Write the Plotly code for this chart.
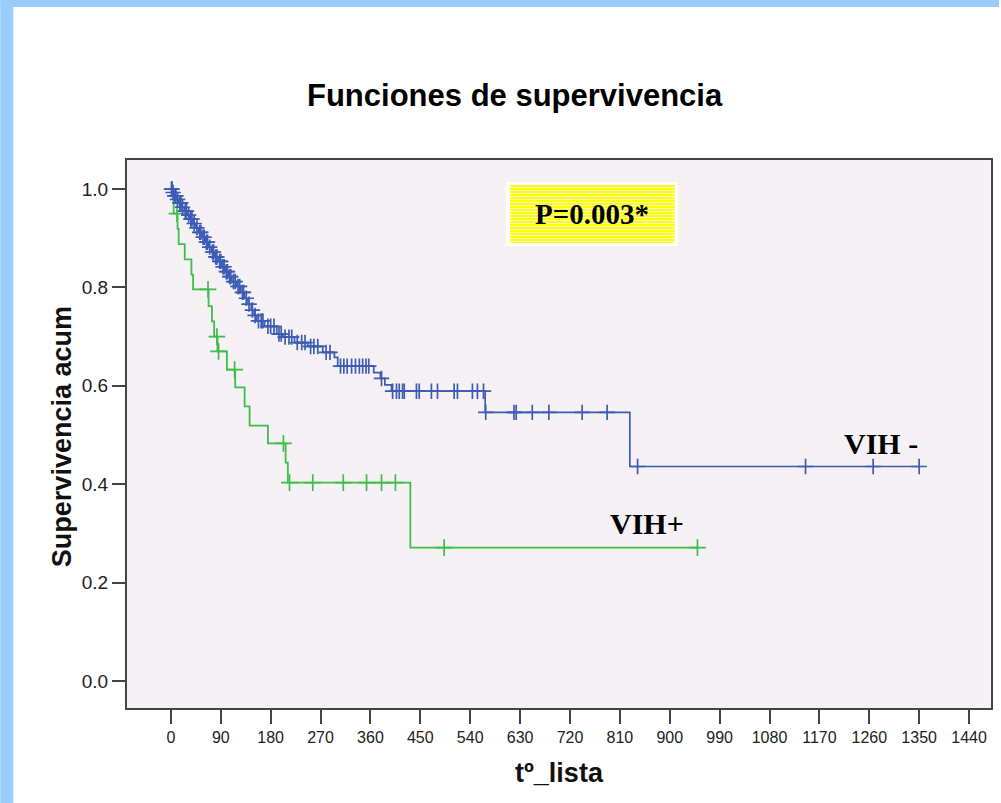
import numpy as np
import plotly.graph_objects as go

# ---------------- data ----------------
# VIH- (blue): event times (days) and survival after each event
neg_event_days = [3, 6, 10, 14, 19, 24, 29, 34, 40, 45, 50, 56, 62, 68, 73, 79, 85, 92, 98,
                  104, 110, 118, 126, 133, 139, 145, 150, 155, 169, 191, 202, 223, 247, 274,
                  295, 301, 366, 378, 386, 398, 567, 828]
neg_event_surv = [0.993, 0.986, 0.979, 0.972, 0.963, 0.955, 0.947, 0.939, 0.930, 0.921, 0.912,
                  0.902, 0.892, 0.882, 0.872, 0.862, 0.853, 0.842, 0.832, 0.822, 0.812, 0.802,
                  0.790, 0.778, 0.766, 0.754, 0.743, 0.732, 0.721, 0.705, 0.699, 0.688, 0.680,
                  0.668, 0.658, 0.640, 0.627, 0.615, 0.602, 0.589, 0.546, 0.436]
neg_censor_days = [1, 2, 4, 7, 9, 12, 16, 18, 21, 26, 28, 32, 36, 38, 42, 47, 52, 54, 58, 60,
                   64, 66, 70, 75, 77, 81, 83, 88, 90, 94, 96, 100, 102, 106, 108, 113, 116,
                   121, 124, 129, 131, 136, 141, 147, 152, 158, 163, 166, 175, 180, 186, 195,
                   199, 206, 213, 218, 228, 236, 242, 252, 258, 265, 280, 287, 306, 312, 318,
                   326, 333, 340, 346, 352, 357, 380, 400, 407, 412, 418, 421, 443, 448, 470,
                   481, 511, 517, 544, 553, 564, 568, 619, 623, 652, 682, 742, 787, 842, 1145,
                   1267, 1350]

# VIH+ (green)
pos_event_days = [5, 12, 14, 25, 37, 40, 68, 74, 78, 84, 101, 116, 133, 142, 175, 207, 211, 432]
pos_event_surv = [0.950, 0.919, 0.888, 0.857, 0.826, 0.796, 0.762, 0.731, 0.700, 0.670, 0.633,
                  0.597, 0.558, 0.519, 0.483, 0.444, 0.403, 0.271]
pos_censor_days = [11, 67, 83, 86, 115, 203, 214, 256, 311, 353, 380, 405, 493, 950]

x_ticks = [0, 90, 180, 270, 360, 450, 540, 630, 720, 810, 900, 990, 1080, 1170, 1260, 1350, 1440]
y_ticks = [0.0, 0.2, 0.4, 0.6, 0.8, 1.0]
y_tick_labels = ["0.0", "0.2", "0.4", "0.6", "0.8", "1.0"]

title_text = "Funciones de supervivencia"
x_title = "tº_lista"
y_title = "Supervivencia acum"
p_text = "P=0.003*"
neg_label = "VIH -"
pos_label = "VIH+"

# ---------------- styles ----------------
BLUE = "#3D5CB4"
GREEN = "#3FBE4C"
SANS = "Liberation Sans, Arial, sans-serif"
SERIF = "Liberation Serif, Times New Roman, serif"

W_FIG, H_FIG = 1001, 803
L, R, T, B = 127, 993, 160, 708


def px(x):
    return (x - L) / (R - L)


def py(y):
    return (B - y) / (B - T)


def step_xy(days, surv, censors):
    end = max(censors)
    xs = [0] + list(days) + [end]
    ys = [1.0] + list(surv) + [surv[-1]]
    return xs, ys


def censor_y(days, surv, censors):
    levels = np.array([1.0] + list(surv))
    idx = np.searchsorted(np.array(days), np.array(censors), side="right")
    return levels[idx]


fig = go.Figure()

for days, surv, cens, col, lw, ms in [
    (pos_event_days, pos_event_surv, pos_censor_days, GREEN, 1.8, 12),
    (neg_event_days, neg_event_surv, neg_censor_days, BLUE, 1.7, 11),
]:
    xs, ys = step_xy(days, surv, cens)
    fig.add_trace(go.Scatter(x=xs, y=ys, mode="lines", line=dict(color=col, width=lw, shape="hv"),
                             hoverinfo="skip", showlegend=False))
    fig.add_trace(go.Scatter(x=cens, y=censor_y(days, surv, cens), mode="markers",
                             marker=dict(symbol="cross-thin", size=ms, color=col,
                                         line=dict(color=col, width=1.7)),
                             hoverinfo="skip", showlegend=False))

shapes = []
# light blue page border
shapes.append(dict(type="rect", xref="paper", yref="paper", x0=px(0), x1=px(W_FIG), y0=py(0), y1=py(7),
                   fillcolor="#99CCFF", line=dict(width=0), layer="below"))
shapes.append(dict(type="rect", xref="paper", yref="paper", x0=px(0), x1=px(13), y0=py(0), y1=py(H_FIG),
                   fillcolor="#99CCFF", line=dict(width=0), layer="below"))
# P value box
shapes.append(dict(type="rect", xref="paper", yref="paper", x0=px(507), x1=px(679), y0=py(246), y1=py(182),
                   fillcolor="white", line=dict(width=0)))
shapes.append(dict(type="rect", xref="paper", yref="paper", x0=px(511), x1=px(676), y0=py(243), y1=py(185),
                   fillcolor="#FFFF00", line=dict(width=0)))
for yy in range(187, 243, 3):
    shapes.append(dict(type="line", xref="paper", yref="paper", x0=px(511), x1=px(676), y0=py(yy + 0.5),
                       y1=py(yy + 0.5), line=dict(color="#FFFFD0", width=1)))

annotations = [
    dict(text=title_text, x=px(516), y=py(96), font=dict(family=SANS, size=31, color="black", weight="bold")),
    dict(text=p_text, x=px(593), y=py(214), font=dict(family=SERIF, size=29, color="black", weight="bold")),
    dict(text=neg_label, x=px(883), y=py(443), font=dict(family=SERIF, size=30, color="black", weight="bold")),
    dict(text=pos_label, x=px(648), y=py(523), font=dict(family=SERIF, size=30, color="black", weight="bold")),
    dict(text=y_title, x=px(62), y=py(437), textangle=-90,
         font=dict(family=SANS, size=27, color="#111", weight="bold")),
    dict(text=x_title, x=px(561), y=py(773), font=dict(family=SANS, size=27, color="#111", weight="bold")),
]
for a in annotations:
    a.update(xref="paper", yref="paper", xanchor="center", yanchor="middle", showarrow=False)

fig.update_layout(
    width=W_FIG, height=H_FIG,
    margin=dict(l=L, r=W_FIG - R, t=T, b=H_FIG - B, pad=0),
    paper_bgcolor="white",
    plot_bgcolor="#F5F1F5",
    showlegend=False,
    hovermode=False,
    shapes=shapes,
    annotations=annotations,
    xaxis=dict(range=[(L - 171) * 1.8, (R - 171) * 1.8], tickvals=x_ticks,
               ticktext=[str(v) for v in x_ticks], ticks="outside", ticklen=14, tickwidth=2,
               tickcolor="#444", showgrid=False, zeroline=False, showline=True, linecolor="#444",
               linewidth=2, mirror=True, tickfont=dict(family=SANS, size=16, color="#222")),
    yaxis=dict(range=[-27 / 491, 1 + 29 / 491], tickvals=y_ticks, ticktext=y_tick_labels,
               ticks="outside", ticklen=13, tickwidth=2, tickcolor="#444", showgrid=False,
               zeroline=False, showline=True, linecolor="#444", linewidth=2, mirror=True,
               tickfont=dict(family=SANS, size=19, color="#222")),
)

fig.write_html("out.html", config={"displayModeBar": False},
               post_script="document.body.style.margin='0';")
